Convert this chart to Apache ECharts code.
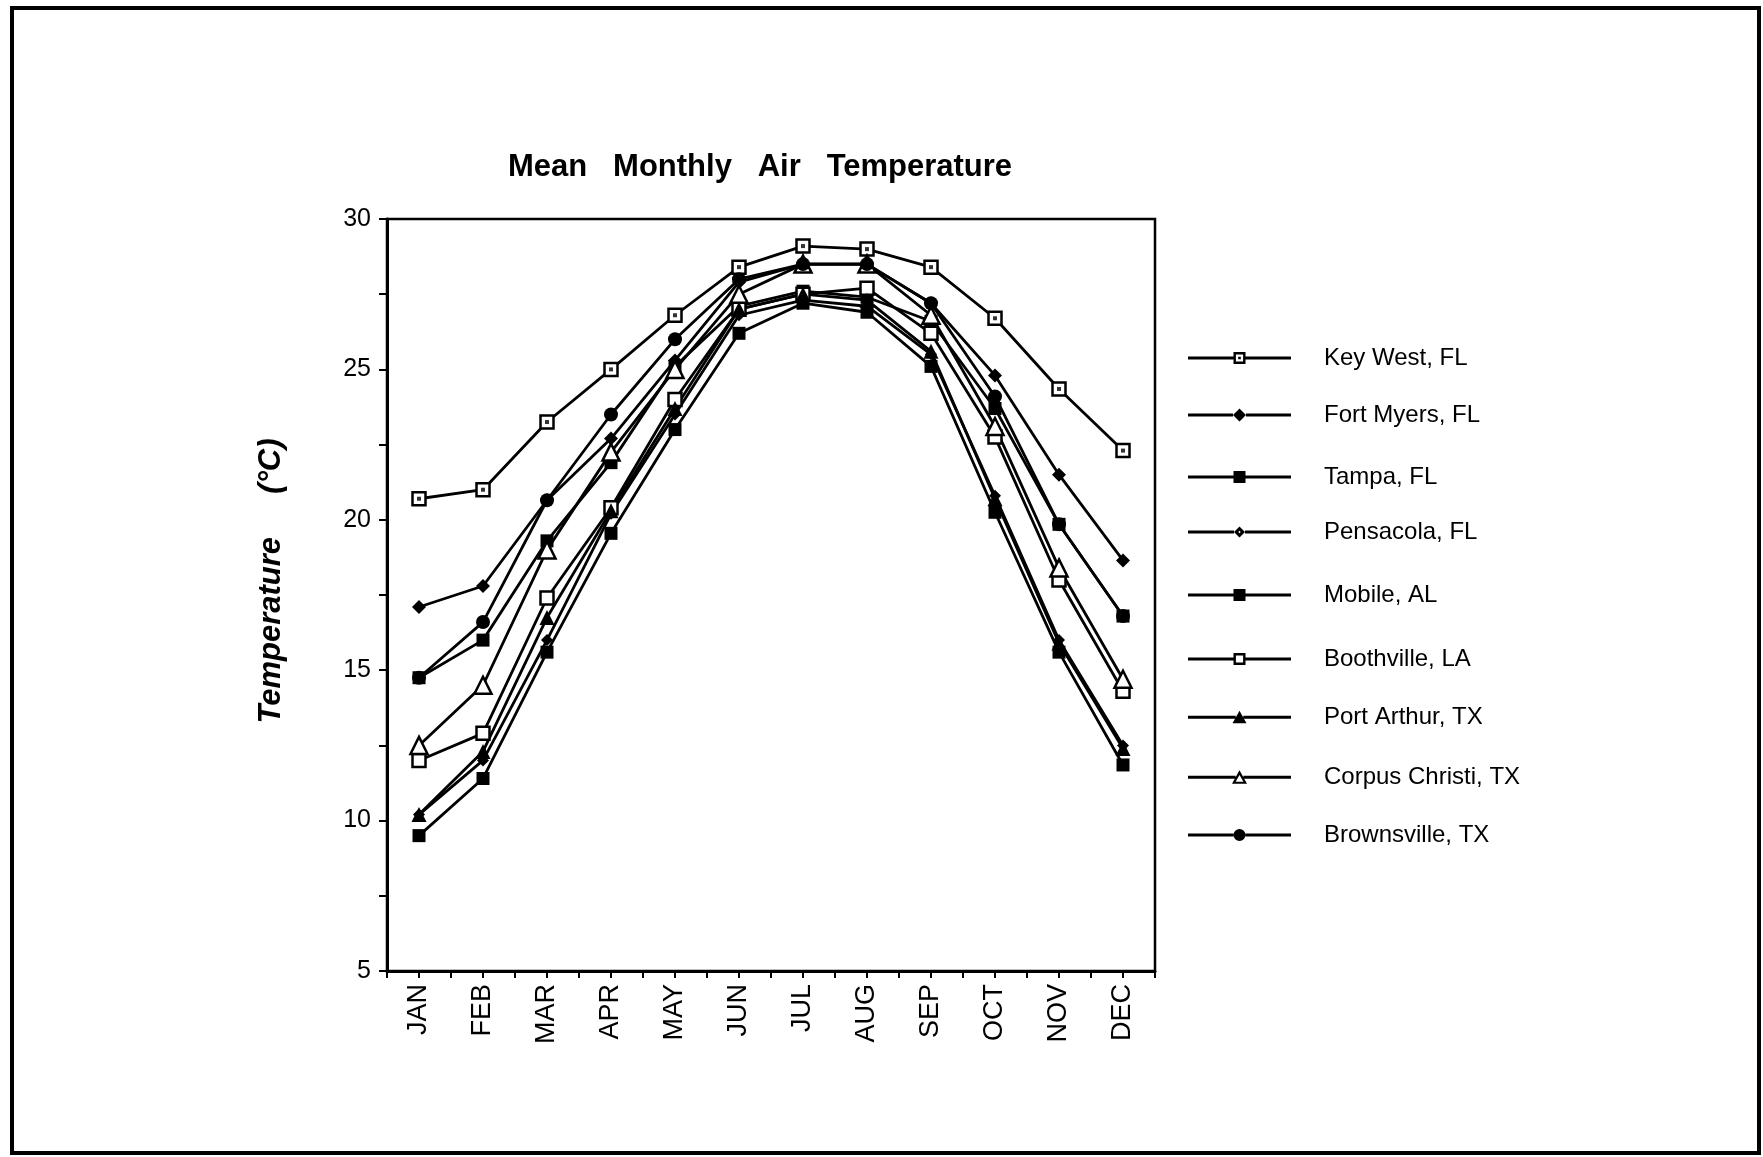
<!DOCTYPE html>
<html lang="en">
<head>
  <meta charset="UTF-8" />
  <title>Mean Monthly Air Temperature</title>
  <script src="https://cdn.jsdelivr.net/npm/echarts@6/dist/echarts.min.js"></script>
  <style>
    body { margin: 0; background: #fff; }
    #chart { position: absolute; left: 0; top: 0; width: 1763px; height: 1157px; }
    #frame {
      position: absolute; left: 10px; top: 6px; width: 1751px; height: 1149px;
      border: 4px solid #000; box-sizing: border-box; pointer-events: none;
    }
  </style>
</head>
<body>
  <div id="chart"></div>
  <div id="frame"></div>
  <script>
    // data
    const months = ['JAN', 'FEB', 'MAR', 'APR', 'MAY', 'JUN', 'JUL', 'AUG', 'SEP', 'OCT', 'NOV', 'DEC'];
    const yTicks = [5, 10, 15, 20, 25, 30];

    const keyWest       = [20.7, 21.0, 23.25, 25.0, 26.8, 28.4, 29.1, 29.0, 28.4, 26.7, 24.35, 22.3];
    const fortMyers     = [17.1, 17.8, 20.65, 22.7, 25.3, 27.9, 28.5, 28.5, 27.2, 24.8, 21.5, 18.65];
    const tampa         = [14.75, 16.0, 19.3, 21.9, 25.1, 27.1, 27.6, 27.4, 26.6, 23.7, 19.85, 16.8];
    const pensacola     = [10.2, 12.0, 16.0, 20.2, 23.5, 26.8, 27.3, 27.1, 25.5, 20.8, 16.0, 12.5];
    const mobile        = [9.5, 11.4, 15.6, 19.55, 23.0, 26.2, 27.2, 26.9, 25.1, 20.25, 15.6, 11.85];
    const boothville    = [12.0, 12.9, 17.4, 20.4, 24.0, 27.0, 27.5, 27.7, 26.2, 22.75, 18.0, 14.3];
    const portArthur    = [10.2, 12.3, 16.75, 20.3, 23.7, 27.0, 27.5, 27.3, 25.6, 20.7, 15.9, 12.4];
    const corpusChristi = [12.5, 14.5, 19.0, 22.25, 25.0, 27.5, 28.5, 28.5, 26.8, 23.1, 18.4, 14.7];
    const brownsville   = [14.75, 16.6, 20.65, 23.5, 26.0, 28.0, 28.5, 28.5, 27.2, 24.1, 19.85, 16.8];

    const stations = [
      { name: 'Key West, FL',       data: keyWest,       kind: 'sqdot' },
      { name: 'Fort Myers, FL',     data: fortMyers,     kind: 'diamond' },
      { name: 'Tampa, FL',          data: tampa,         kind: 'square' },
      { name: 'Pensacola, FL',      data: pensacola,     kind: 'smalldiamond' },
      { name: 'Mobile, AL',         data: mobile,        kind: 'square' },
      { name: 'Boothville, LA',     data: boothville,    kind: 'sqopen' },
      { name: 'Port Arthur, TX',    data: portArthur,    kind: 'tri' },
      { name: 'Corpus Christi, TX', data: corpusChristi, kind: 'triopen' },
      { name: 'Brownsville, TX',    data: brownsville,   kind: 'circle' }
    ];

    // legend row centres (px)
    const legendRows = [358, 415, 477, 532, 595, 659, 717, 777, 835];

    const FONT = '"Liberation Sans", Arial, sans-serif';

    // chart markers
    const markers = {
      sqdot:        { symbol: 'rect', size: 13, open: true },
      diamond:      { symbol: 'diamond', size: 14 },
      square:       { symbol: 'rect', size: 13 },
      smalldiamond: { symbol: 'diamond', size: 12 },
      sqopen:       { symbol: 'rect', size: 13, open: true },
      tri:          { symbol: 'triangle', size: 15 },
      triopen:      { symbol: 'triangle', size: 17, open: true },
      circle:       { symbol: 'circle', size: 14 }
    };

    // legend icon = line + marker in a 103 x 14 box
    function rect(x0, y0, x1, y1) {
      return 'M' + x0 + ' ' + y0 + 'L' + x1 + ' ' + y0 + 'L' + x1 + ' ' + y1 + 'L' + x0 + ' ' + y1 + 'Z';
    }
    function rectRev(x0, y0, x1, y1) {
      return 'M' + x0 + ' ' + y0 + 'L' + x0 + ' ' + y1 + 'L' + x1 + ' ' + y1 + 'L' + x1 + ' ' + y0 + 'Z';
    }
    function legendIcon(kind) {
      const c = 51.5, W = 103;
      let half = 6, shape = '';
      if (kind === 'sqdot') {
        shape = rect(c - 6, 1, c + 6, 13) + rectRev(c - 3.6, 3.4, c + 3.6, 10.6) + rect(c - 1.3, 5.7, c + 1.3, 8.3);
      } else if (kind === 'sqopen') {
        shape = rect(c - 6, 1, c + 6, 13) + rectRev(c - 3.6, 3.4, c + 3.6, 10.6);
      } else if (kind === 'square') {
        shape = rect(c - 6, 1, c + 6, 13);
      } else if (kind === 'diamond') {
        half = 6.5;
        shape = 'M' + c + ' 0.5L' + (c + 6.5) + ' 7L' + c + ' 13.5L' + (c - 6.5) + ' 7Z';
      } else if (kind === 'smalldiamond') {
        half = 5.5;
        shape = 'M' + c + ' 1.5L' + (c + 5.5) + ' 7L' + c + ' 12.5L' + (c - 5.5) + ' 7Z' +
                'M' + c + ' 5.8L' + (c - 1.2) + ' 7L' + c + ' 8.2L' + (c + 1.2) + ' 7Z';
      } else if (kind === 'tri') {
        half = 3.8;
        shape = 'M' + c + ' 0.5L' + (c + 7) + ' 13L' + (c - 7) + ' 13Z';
      } else if (kind === 'triopen') {
        half = 3.9;
        shape = 'M' + c + ' 0L' + (c + 7.5) + ' 13.5L' + (c - 7.5) + ' 13.5Z' +
                'M' + c + ' 4.8L' + (c - 3.9) + ' 11.6L' + (c + 3.9) + ' 11.6Z';
      } else {
        shape = 'M' + (c - 6) + ' 7A6 6 0 1 1 ' + (c + 6) + ' 7A6 6 0 1 1 ' + (c - 6) + ' 7Z';
      }
      const line = rect(0, 5.6, c - half, 8.4) + rect(c + half, 5.6, W, 8.4);
      return 'path://' + line + shape;
    }

    const series = stations.map(function (s) {
      const m = markers[s.kind];
      return {
        name: s.name,
        type: 'line',
        data: s.data,
        symbol: m.symbol,
        symbolSize: m.size,
        showAllSymbol: true,
        lineStyle: { color: '#000', width: 2.8 },
        itemStyle: m.open
          ? { color: '#fff', borderColor: '#000', borderWidth: 2.5 }
          : { color: '#000', borderColor: '#000', borderWidth: 0 },
        emphasis: { disabled: true }
      };
    });
    // centre dot of the Key West markers
    series.push({
      name: 'kwDot',
      type: 'scatter',
      data: keyWest,
      symbol: 'rect',
      symbolSize: 4,
      itemStyle: { color: '#000' },
      z: 5,
      silent: true
    });

    const legends = stations.map(function (s, i) {
      return {
        data: [{ name: s.name, icon: legendIcon(s.kind) }],
        left: 1188,
        top: legendRows[i] - 12,
        padding: 0,
        itemWidth: 103,
        itemHeight: 14,
        selectedMode: false,
        itemStyle: { color: '#000', borderColor: '#000', borderWidth: 0 },
        textStyle: { fontSize: 24, color: '#000', fontFamily: FONT, padding: [0, 0, 0, 28] }
      };
    });

    const chart = echarts.init(document.getElementById('chart'));
    chart.setOption({
      animation: false,
      backgroundColor: '#fff',
      textStyle: { fontFamily: FONT, color: '#000' },
      title: {
        text: 'Mean   Monthly   Air   Temperature',
        left: 508,
        top: 152,
        padding: 0,
        textStyle: { fontSize: 31, fontWeight: 'bold', color: '#000', fontFamily: FONT }
      },
      legend: legends,
      grid: {
        left: 387, top: 219, width: 768, height: 752,
        show: true, borderColor: '#000', borderWidth: 2.5
      },
      xAxis: [
        {
          type: 'category',
          data: months,
          boundaryGap: true,
          axisLine: { lineStyle: { color: '#000', width: 3 } },
          axisTick: { show: true, length: 7, lineStyle: { color: '#000', width: 2 } },
          axisLabel: { rotate: 90, fontSize: 27, color: '#000', margin: 13, interval: 0 },
          splitLine: { show: false }
        },
        {
          type: 'category',
          data: months,
          position: 'bottom',
          boundaryGap: true,
          axisLine: { show: false },
          axisTick: { show: true, alignWithLabel: true, length: 7, lineStyle: { color: '#000', width: 2 } },
          axisLabel: { show: false },
          splitLine: { show: false }
        }
      ],
      yAxis: {
        type: 'value',
        min: yTicks[0],
        max: yTicks[yTicks.length - 1],
        interval: 5,
        name: 'Temperature     (°C)',
        nameLocation: 'middle',
        nameGap: 100,
        nameTextStyle: {
          fontSize: 31, fontWeight: 'bold', fontStyle: 'italic', color: '#000', fontFamily: FONT,
          padding: [0, 0, 0, 28]
        },
        axisLine: { show: true, lineStyle: { color: '#000', width: 3 } },
        axisTick: { show: true, length: 8, lineStyle: { color: '#000', width: 2 } },
        minorTick: { show: true, splitNumber: 2, length: 8, lineStyle: { color: '#000', width: 2 } },
        axisLabel: { fontSize: 25, color: '#000', margin: 16 },
        splitLine: { show: false }
      },
      series: series
    });
  </script>
</body>
</html>
